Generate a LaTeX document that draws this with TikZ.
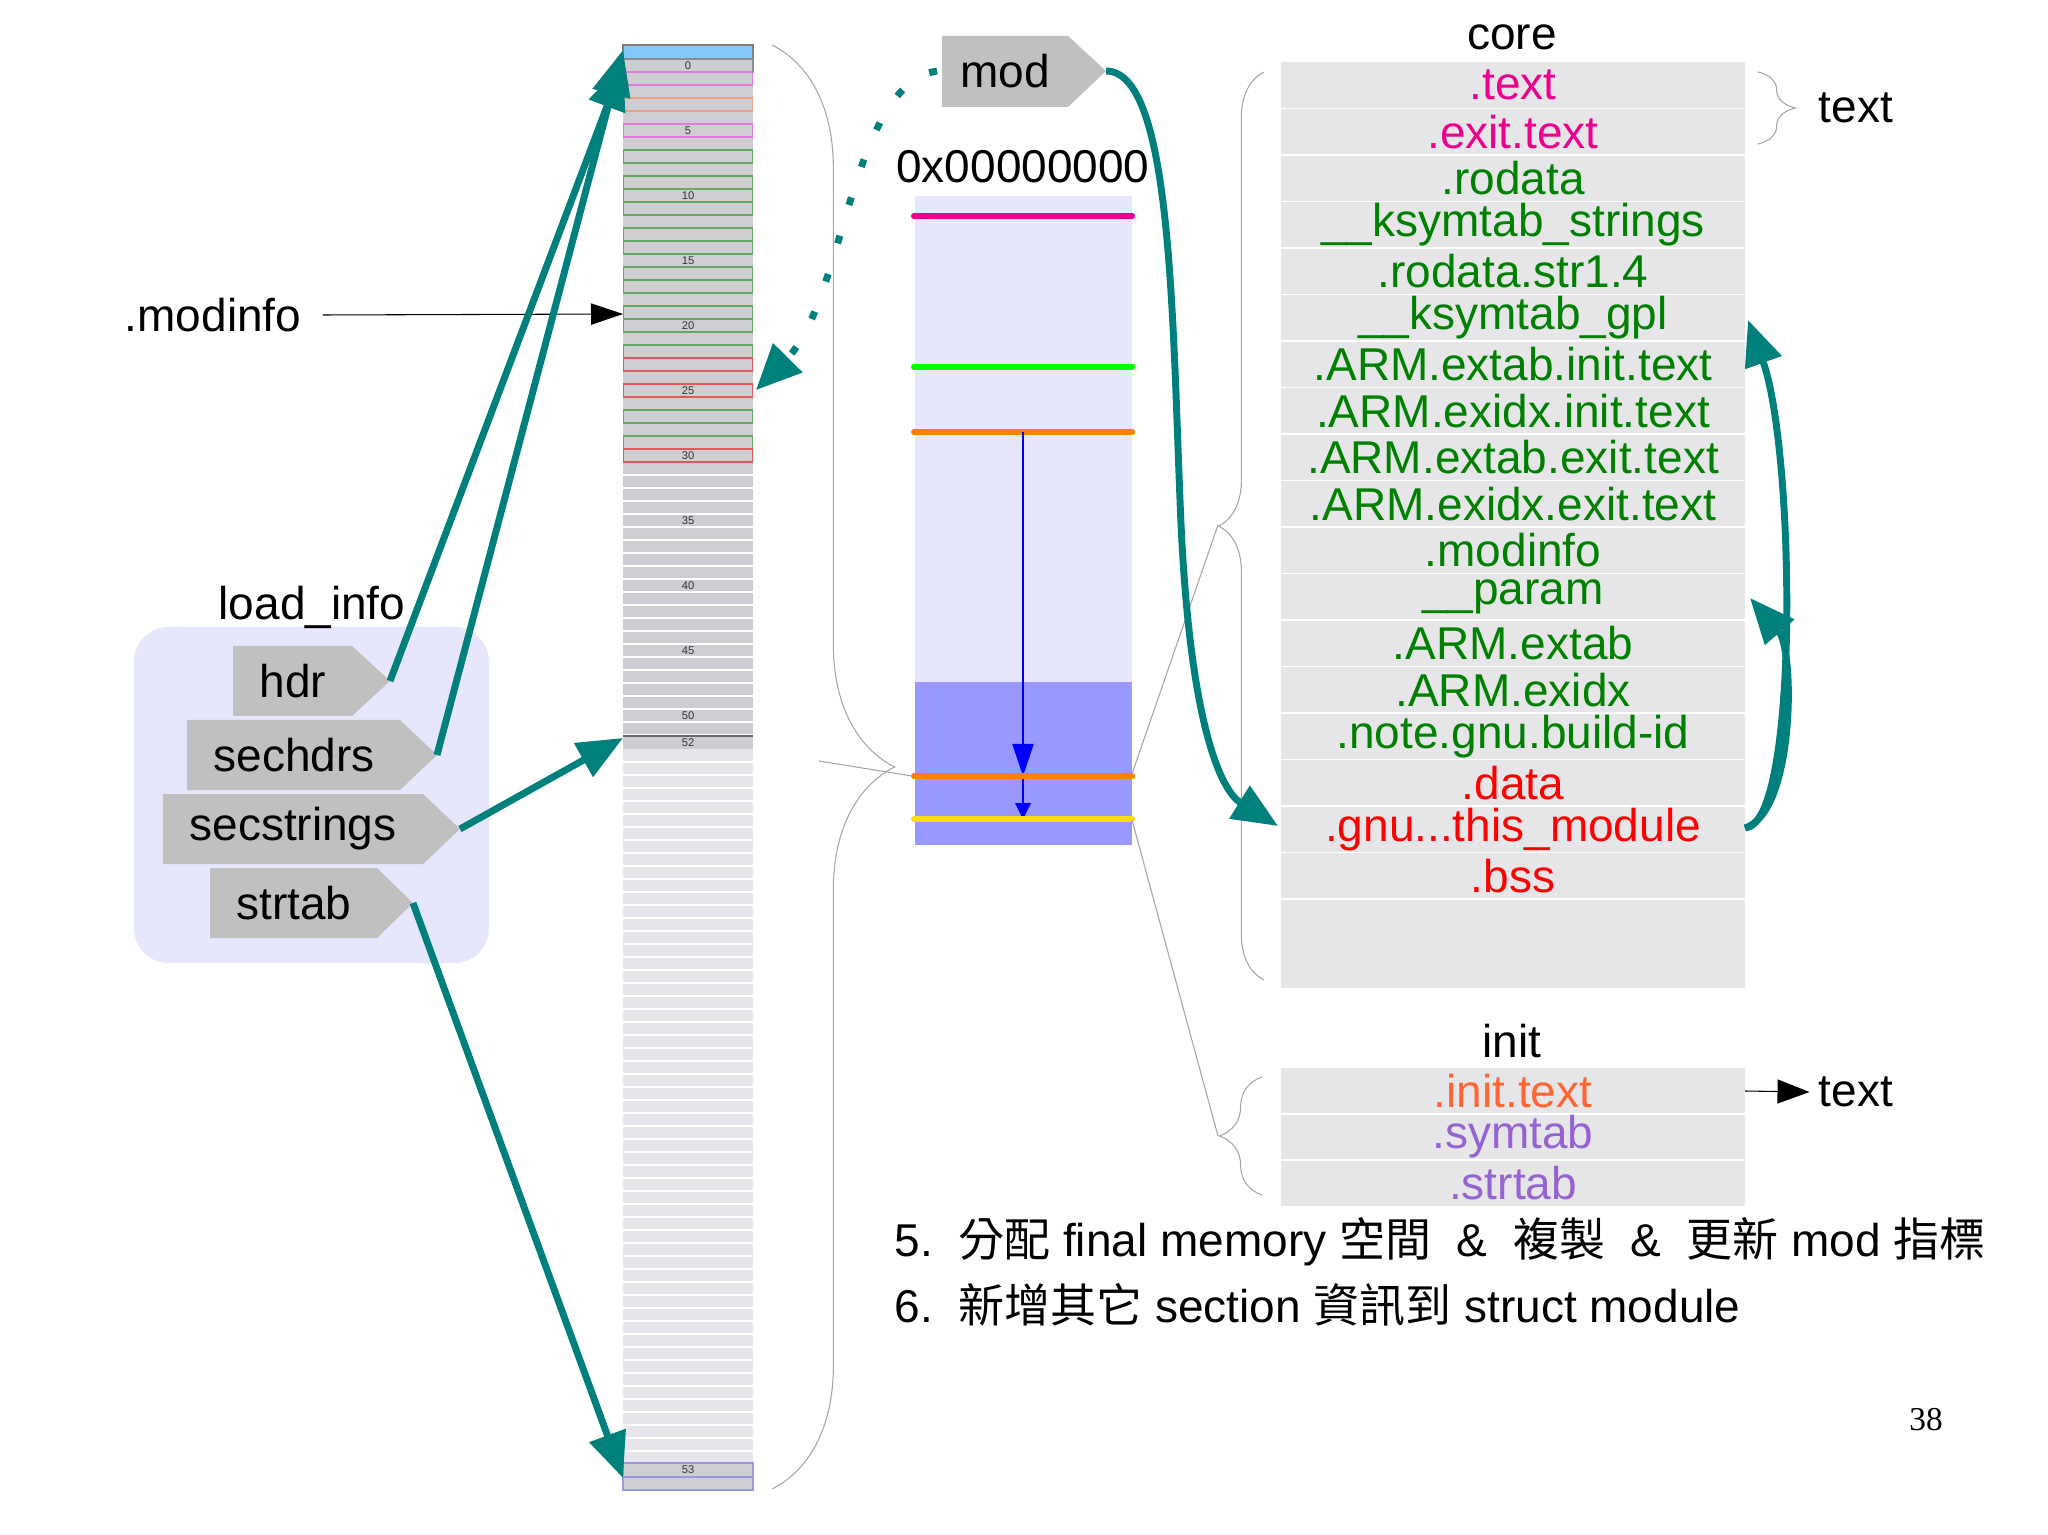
\documentclass[tikz,border=0pt]{standalone}
\usepackage{fontspec}
\setmainfont{Liberation Sans}
\newfontfamily\cjk{Noto Sans CJK TC}
\newfontfamily\serifnum{Liberation Serif}
\usetikzlibrary{arrows.meta,decorations.pathreplacing}
\def\mythreedots{...}
\definecolor{teal1}{RGB}{0,128,124}
\definecolor{memg}{RGB}{206,206,210}
\definecolor{meml}{RGB}{230,230,234}
\definecolor{pinkb}{RGB}{224,120,224}
\definecolor{orab}{RGB}{238,160,130}
\definecolor{grnb}{RGB}{100,170,100}
\definecolor{redb}{RGB}{222,90,90}
\definecolor{topb}{RGB}{130,200,250}
\definecolor{lav}{RGB}{230,230,252}
\definecolor{lav2}{RGB}{153,153,255}
\definecolor{panel}{RGB}{230,230,232}
\definecolor{ptag}{RGB}{192,192,192}
\definecolor{sgreen}{RGB}{0,128,0}
\definecolor{sinit}{RGB}{255,102,51}
\definecolor{spurp}{RGB}{150,100,210}
\tikzset{
  big/.style={font=\fontsize{17.25}{20}\selectfont},
  teal arrow/.style={draw=teal1,line width=2.6pt,-{Triangle[length=17pt,width=14pt]}},
  thin gray/.style={draw=black!35,line width=0.4pt},
  brc/.style={thin gray,decorate,decoration={brace,amplitude=#1}},
  mline/.style={line width=2.3pt,line cap=round},
  num/.style={font=\fontsize{4.2}{5}\selectfont,text=black!80},
  tag/.style={fill=ptag},
}
\begin{document}
\begin{tikzpicture}[x=0.375pt,y=-0.375pt]
\useasboundingbox (0,0) rectangle (2048,1535);
% ---------- memory column ----------
\fill[topb] (623,45) rectangle (753,59);
\draw[black!50,line width=0.4pt] (623,45) rectangle (753,59);
\fill[memg] (623,59) rectangle (753,749);
\foreach \i in {1,...,52} \draw[white,line width=0.5pt] (623,{59+13*\i}) -- (753,{59+13*\i});
\fill[meml] (623,749) rectangle (753,1463);
\foreach \i in {1,...,54} \draw[white,line width=0.6pt] (623,{749+13*\i}) -- (753,{749+13*\i});
\fill[memg] (623,1463) rectangle (753,1490);
\draw[black!45,line width=0.5pt] (623,59) rectangle (753,72);
\foreach \i/\c in {1/pinkb,3/orab,5/pinkb,7/grnb,9/grnb,10/grnb,11/grnb,13/grnb,14/grnb,16/grnb,17/grnb,19/grnb,20/grnb,22/grnb,23/redb,25/redb,27/grnb,29/grnb,30/redb}
  \draw[\c,line width=0.5pt] (623.5,{59+13*\i}) rectangle (752.5,{72+13*\i});
\draw[black!60,line width=0.7pt] (623,736) -- (753,736);
\draw[black!30!blue!40,line width=0.6pt] (623,1463) rectangle (753,1477) (623,1477) rectangle (753,1490);
\foreach \i in {0,5,...,50} \node[num] at (688,{65.5+13*\i}) {\i};
\node[num] at (688,742.5) {52};
\node[num] at (688,1470) {53};
\coordinate (memtop) at (623,50);
\coordinate (memtop2) at (623,64);
\coordinate (mem52) at (623,738);
\coordinate (mem53) at (623,1478);
\coordinate (memmi) at (623,314);
\coordinate (mem25) at (756,390);
% memory brace
\draw[brc=46pt] (772,45) -- (772,1489);
\coordinate (membt) at (819,761);
% ---------- .modinfo ----------
\node[big] (modinfo) at (213,315) {.modinfo};
\draw[black,line width=0.4pt,-{Triangle[length=12pt,width=8pt]}] (modinfo.east) ++(12,0) -- (memmi);
% ---------- load_info ----------
\fill[lav,rounded corners=13pt] (134,627) rectangle (489,963);
\node[big] (li) at (312,607) {load\_info};
\fill[tag] (233,646) -- (352,646) -- (390,681) -- (352,716) -- (233,716) -- cycle;
\node[big,anchor=west] (hdr) at (250,681) {hdr};
\coordinate (hdrt) at (390,681);
\fill[tag] (187,720) -- (400,720) -- (437,755) -- (400,790) -- (187,790) -- cycle;
\node[big,anchor=west] (sechdrs) at (204,755) {sechdrs};
\coordinate (sechdrst) at (437,755);
\fill[tag] (163,794) -- (423,794) -- (460,829) -- (423,864) -- (163,864) -- cycle;
\node[big,anchor=west] (secstrings) at (180,829) {secstrings};
\coordinate (secstringst) at (460,829);
\fill[tag] (210,868) -- (377,868) -- (413,903) -- (377,938) -- (210,938) -- cycle;
\node[big,anchor=west] (strtab) at (227,903) {strtab};
\coordinate (strtabt) at (413,903);
\draw[teal arrow] (hdrt) -- (memtop2);
\draw[teal arrow] (sechdrst) -- (memtop);
\draw[teal arrow] (secstringst) -- (mem52);
\draw[teal arrow] (strtabt) -- (mem53);
% ---------- mod ----------
\fill[tag] (942,36) -- (1068,36) -- (1106,71) -- (1068,107) -- (942,107) -- cycle;
\node[big] (mod) at (1005,71) {mod};
\coordinate (modl) at (937,71);
\coordinate (modt) at (1106,71);
\draw[teal1,line width=2.6pt,dash pattern=on 3pt off 12pt,-{Triangle[length=17pt,width=15pt]}]
  (modl) .. controls (850,85) and (845,300) .. (mem25);
% ---------- middle panel ----------
\fill[lav] (915,196) rectangle (1132,682);
\fill[lav2] (915,682) rectangle (1132,845);
\node[big] (addr) at (1023,167) {0x00000000};
\draw[mline,magenta] (914,216) -- (1132,216);
\draw[mline,green] (914,367) -- (1132,367);
\draw[mline,orange] (914,432) -- (1132,432);
\coordinate (o1) at (1023,432);
\coordinate (o2) at (1023,776);
\coordinate (y2) at (1023,819);
\draw[blue,line width=0.4pt,-{Triangle[length=12pt,width=8pt]}] (o1) -- (o2);
\draw[blue,line width=0.4pt,-{Triangle[length=6pt,width=6pt]}] (o2) -- (y2);
\draw[mline,orange] (914,776) -- (1132,776);
\draw[mline,yellow!80!orange] (914,819) -- (1132,819);
\coordinate (ol) at (912,776);
\coordinate (orr) at (1132,774);
\coordinate (yr) at (1132,820);
\draw[thin gray] (membt) -- (ol);
% ---------- core ----------
\node[big] (core) at (1512,37) {core};
\fill[panel] (1281,62) rectangle (1745,988);
\foreach \k in {1,...,18} \draw[white,line width=0.6pt] (1281,{62+46.5*\k}) -- (1745,{62+46.5*\k});
\foreach \t/\c [count=\k from 0] in {.text/magenta,.exit.text/magenta,.rodata/sgreen,\_\_ksymtab\_strings/sgreen,.rodata.str1.4/sgreen,\_\_ksymtab\_gpl/sgreen,.ARM.extab.init.text/sgreen,.ARM.exidx.init.text/sgreen,.ARM.extab.exit.text/sgreen,.ARM.exidx.exit.text/sgreen,.modinfo/sgreen,\_\_param/sgreen,.ARM.extab/sgreen,.ARM.exidx/sgreen,.note.gnu.build-id/sgreen,.data/red,.gnu\mythreedots this\_module/red,.bss/red}
  \node[big,text=\c] (c\k) at (1513,{62+46.5*(\k+0.5)}) {\t};
\coordinate (thisl) at (1278,826);
\coordinate (thisr) at (1745,828);
\coordinate (gplr) at (1748,320);
\coordinate (paramr) at (1750,598);
\draw[brc=14pt] (1758,72) -- (1758,144);
\node[big] (text1) at (1856,108) {text};
\draw[brc=17pt] (1264,980) -- (1264,72);
\coordinate (coretip) at (1218,525);
\draw[thin gray] (orr) -- (coretip);
% ---------- init ----------
\node[big] (init) at (1512,1041) {init};
\fill[panel] (1281,1068) rectangle (1745,1206);
\draw[white,line width=0.6pt] (1281,1114) -- (1745,1114) (1281,1160) -- (1745,1160);
\node[big,text=sinit] (it) at (1513,1091) {.init.text};
\node[big,text=spurp] (sy) at (1513,1137) {.symtab};
\node[big,text=spurp] (st) at (1513,1183) {.strtab};
\node[big] (text2) at (1856,1092) {text};
\draw[black,line width=0.4pt,-{Triangle[length=12pt,width=9pt]}] (1745,1091) -- (text2.west);
\draw[brc=16pt] (1262,1195) -- (1262,1077);
\coordinate (inittip) at (1218,1136);
\draw[thin gray] (yr) -- (inittip);
% ---------- teal curves ----------
\draw[teal arrow] (modt) .. controls (1170,71) and (1172,300) .. (1180,500) .. controls (1188,720) and (1220,790) .. (thisl);
\draw[teal arrow] (thisr) .. controls (1800,825) and (1795,450) .. (gplr);
\draw[teal arrow] (thisr) .. controls (1795,812) and (1795,650) .. (paramr);
% ---------- bottom text ----------
\node[big,anchor=west] (l5) at (885,1242) {5.\ \ {\cjk 分配} final memory {\cjk 空間}\ \ \&\ \ {\cjk 複製}\ \ \&\ \ {\cjk 更新} mod {\cjk 指標}};
\node[big,anchor=west] (l6) at (885,1305) {6.\ \ {\cjk 新增其它} section {\cjk 資訊到} struct module};
\node[font=\serifnum\fontsize{12.5}{14}\selectfont] (pg) at (1926,1420) {38};
\end{tikzpicture}
\end{document}
